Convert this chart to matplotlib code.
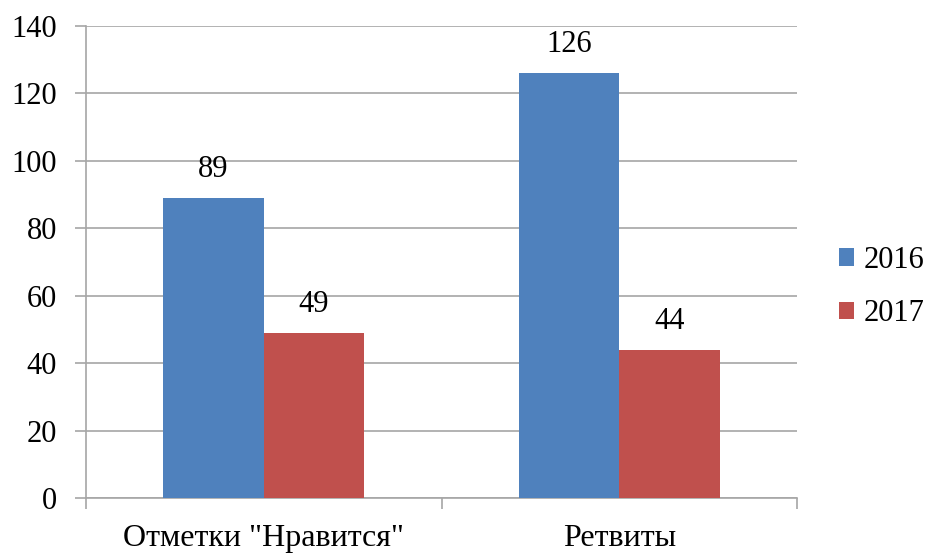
import numpy as np
import matplotlib
matplotlib.use("Agg")
import matplotlib.pyplot as plt

categories = ['Отметки "Нравится"', "Ретвиты"]
series_names = ["2016", "2017"]
values_2016 = [89, 126]
values_2017 = [49, 44]
colors = ["#4F81BD", "#C0504D"]

plt.rcParams["font.family"] = ["Liberation Serif", "DejaVu Serif"]

fig = plt.figure(figsize=(9.32, 5.53), dpi=100)
ax = fig.add_axes([0.0923, 0.0995, 0.763, 0.8535])

x = np.arange(len(categories))
width = 0.283
grid_color = "#a6a6a6"
fs = 22

for i, (name, vals) in enumerate(zip(series_names, [values_2016, values_2017])):
    pos = x + (i - 0.5) * width
    bars = ax.bar(pos, vals, width, color=colors[i], label=name, zorder=3)
    for b, v in zip(bars, vals):
        ax.annotate(str(v), (b.get_x() + b.get_width() / 2, v),
                    xytext=(0, 10), textcoords="offset points",
                    ha="center", va="bottom", fontsize=fs)

ax.set_xlim(-0.5, len(categories) - 0.5)
ax.set_ylim(0, 140)
ax.set_yticks(np.arange(0, 141, 20))
ax.yaxis.grid(True, color=grid_color, linewidth=1.2, zorder=0)

ax.set_xticks(x)
ax.set_xticklabels(categories)
ax.set_xticks(np.arange(-0.5, len(categories), 1.0), minor=True)
ax.tick_params(axis="x", which="major", length=0, pad=19, labelsize=fs + 1)
ax.tick_params(axis="x", which="minor", length=8, color=grid_color, width=1.2)
ax.tick_params(axis="y", length=8, color=grid_color, width=1.2, pad=13, labelsize=fs)

for side in ["top", "right"]:
    ax.spines[side].set_visible(False)
for side in ["left", "bottom"]:
    ax.spines[side].set_color(grid_color)
    ax.spines[side].set_linewidth(1.2)

ax.legend(loc="center left", bbox_to_anchor=(1.02, 0.447), frameon=False,
          fontsize=fs, handlelength=0.5, handleheight=0.5, handletextpad=0.3,
          labelspacing=0.8)

fig.savefig("out.png", dpi=100)
